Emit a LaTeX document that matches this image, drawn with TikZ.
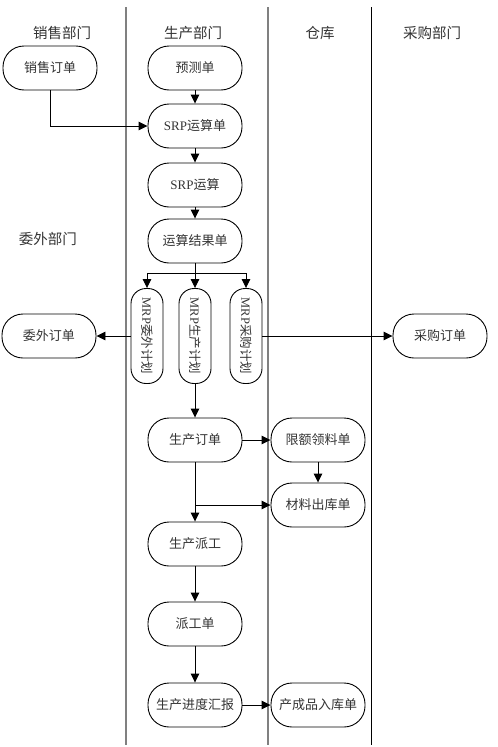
\documentclass[tikz,border=0pt]{standalone}
\usepackage{fontspec}
\setmainfont{Liberation Serif}
\newfontfamily\cjk{Noto Sans CJK SC}
\usetikzlibrary{arrows.meta,shapes.misc}
\definecolor{txt}{HTML}{333333}
\definecolor{lane}{HTML}{808080}
\tikzset{
  box/.style={draw=black, line width=0.9pt, rounded corners=21pt, minimum width=94pt, minimum height=44pt, inner sep=0pt, text=txt, font=\fontsize{13}{15}\selectfont},
  vbox/.style={draw=black, line width=0.9pt, rounded corners=15pt, minimum width=32pt, minimum height=95pt, inner sep=0pt, text=txt, font=\fontsize{12.5}{14}\selectfont},
  hdr/.style={text=txt, font=\fontsize{14.5}{16}\selectfont\cjk, inner sep=0pt},
  arr/.style={draw=black, line width=0.9pt, -{Triangle[length=9pt,width=8.5pt]}},
  ln/.style={draw=black, line width=0.9pt},
  lanegray/.style={draw=lane, line width=1.2pt},
  laneblack/.style={draw=black, line width=1pt}
}
\begin{document}
\begin{tikzpicture}[x=1pt,y=-1pt]
\useasboundingbox (0,0) rectangle (498,747);
% lanes
\coordinate (l1t) at (126,7); \coordinate (l1b) at (126,745);
\coordinate (l2t) at (268,7); \coordinate (l2b) at (268,745);
\coordinate (l3t) at (371,7); \coordinate (l3b) at (371,745);
\draw[lanegray] (l1t) -- (l1b);
\draw[lanegray] (l2t) -- (l2b);
\draw[laneblack] (l3t) -- (l3b);
% headers
\node[hdr] (h1) at (62,33) {销售部门};
\node[hdr] (h2) at (193,33) {生产部门};
\node[hdr] (h3) at (320,33) {仓库};
\node[hdr] (h4) at (432,33) {采购部门};
\node[hdr] (h5) at (48,239) {委外部门};
% nodes
\node[box] (xs) at (50,68) {\cjk 销售订单};
\node[box] (yc) at (195,68) {\cjk 预测单};
\node[box] (srpd) at (195,126) {SRP{\cjk 运算单}};
\node[box] (srp) at (195,185) {SRP{\cjk 运算}};
\node[box] (res) at (195,241) {\cjk 运算结果单};
\node[vbox] (m1) at (147,336) {\rotatebox{-90}{MRP{\cjk 委外计划}}};
\node[vbox] (m2) at (195,336) {\rotatebox{-90}{MRP{\cjk 生产计划}}};
\node[vbox] (m3) at (246,336) {\rotatebox{-90}{MRP{\cjk 采购计划}}};
\node[box] (ww) at (49,336) {\cjk 委外订单};
\node[box] (cg) at (440,336) {\cjk 采购订单};
\node[box] (scdd) at (195,440) {\cjk 生产订单};
\node[box] (xe) at (318,440) {\cjk 限额领料单};
\node[box] (cl) at (318,505) {\cjk 材料出库单};
\node[box] (pg) at (195,544) {\cjk 生产派工};
\node[box] (pgd) at (195,624) {\cjk 派工单};
\node[box] (jd) at (195,705) {\cjk 生产进度汇报};
\node[box] (cp) at (318,705) {\cjk 产成品入库单};
% connectors
\draw[arr] (xs.south) |- (srpd.west);
\draw[arr] (yc) -- (srpd);
\draw[arr] (srpd) -- (srp);
\draw[arr] (srp) -- (res);
\coordinate (br) at (195,273);
\draw[ln] (res.south) -- (br);
\draw[arr] (br) -| (m1.north);
\draw[arr] (br) -- (m2.north);
\draw[arr] (br) -| (m3.north);
\draw[arr] (m1.west) -- (ww.east);
\draw[arr] (m3.east) -- (cg.west);
\draw[arr] (m2.south) -- (scdd.north);
\draw[arr] (scdd.east) -- (xe.west);
\draw[arr] (xe) -- (cl);
\draw[arr] (scdd) -- (pg);
\draw[arr] (scdd.south |- cl.west) -- (cl.west);
\draw[arr] (pg) -- (pgd);
\draw[arr] (pgd) -- (jd);
\draw[arr] (jd.east) -- (cp.west);
\end{tikzpicture}
\end{document}
